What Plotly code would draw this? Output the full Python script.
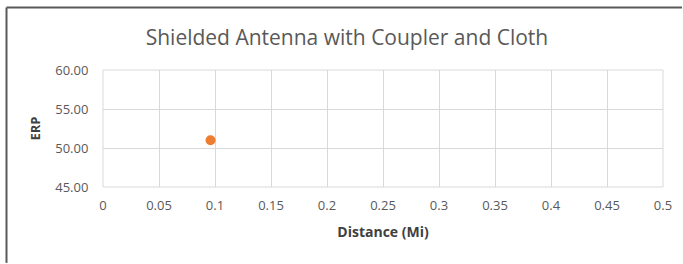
import plotly.graph_objects as go

distance = [0.096]
erp = [51.0]
x_ticks = [0, 0.05, 0.1, 0.15, 0.2, 0.25, 0.3, 0.35, 0.4, 0.45, 0.5]
x_labels = ["0", "0.05", "0.1", "0.15", "0.2", "0.25", "0.3", "0.35", "0.4", "0.45", "0.5"]
y_ticks = [45, 50, 55, 60]
y_labels = ["45.00", "50.00", "55.00", "60.00"]

W, H = 683, 264
ml, mr, mt, mb = 103, 20, 69.5, 76.5
pw, ph = W - ml - mr, H - mt - mb

fig = go.Figure()
fig.add_trace(go.Scatter(x=distance, y=erp, mode="markers",
                         marker=dict(color="#ED7D31", size=10), showlegend=False))

font = "Open Sans, Lato, sans-serif"
fig.update_layout(
    width=W, height=H,
    margin=dict(l=ml, r=mr, t=mt, b=mb),
    paper_bgcolor="white", plot_bgcolor="white",
    title=dict(text="Shielded Antenna with Coupler and Cloth", x=0.508, xanchor="center",
               y=1 - 38 / H, yanchor="middle",
               font=dict(family=font, size=21, color="#595959")),
    font=dict(family=font, color="#595959"),
    xaxis=dict(range=[0, 0.5], tickvals=x_ticks, ticktext=x_labels,
               showgrid=True, gridcolor="#d9d9d9", gridwidth=1,
               zeroline=False, showline=False,
               ticks="outside", ticklen=6, tickcolor="rgba(0,0,0,0)",
               tickfont=dict(size=13, color="#595959"),
               title=dict(text="<b>Distance (Mi)</b>", standoff=14,
                          font=dict(size=14, color="#404040"))),
    yaxis=dict(range=[45, 60], tickvals=y_ticks, ticktext=y_labels,
               showgrid=True, gridcolor="#d9d9d9", gridwidth=1,
               zeroline=False, showline=False,
               ticks="outside", ticklen=11, tickcolor="rgba(0,0,0,0)",
               tickfont=dict(size=13, color="#595959"),
               title=dict(text="<b>ERP</b>", standoff=11,
                          font=dict(size=13, color="#404040"))),
)

fig.add_shape(type="rect", xref="paper", yref="paper", x0=0, x1=1, y0=0, y1=1,
              line=dict(color="#d9d9d9", width=1), layer="below")
fx0 = (6.5 - ml) / pw
fx1 = (W - 1 - ml) / pw
fy_top = (H - mb - 6.5) / ph
fy_bot = (H - mb - H) / ph
fig.add_shape(type="line", xref="paper", yref="paper", x0=fx0, x1=fx1, y0=fy_top, y1=fy_top,
              line=dict(color="#595959", width=2))
fig.add_shape(type="line", xref="paper", yref="paper", x0=fx0, x1=fx0, y0=fy_top, y1=fy_bot,
              line=dict(color="#595959", width=2))

fig.write_html("out.html", config={"displayModeBar": False},
               post_script="document.body.style.margin='0';document.body.style.overflow='hidden';")
